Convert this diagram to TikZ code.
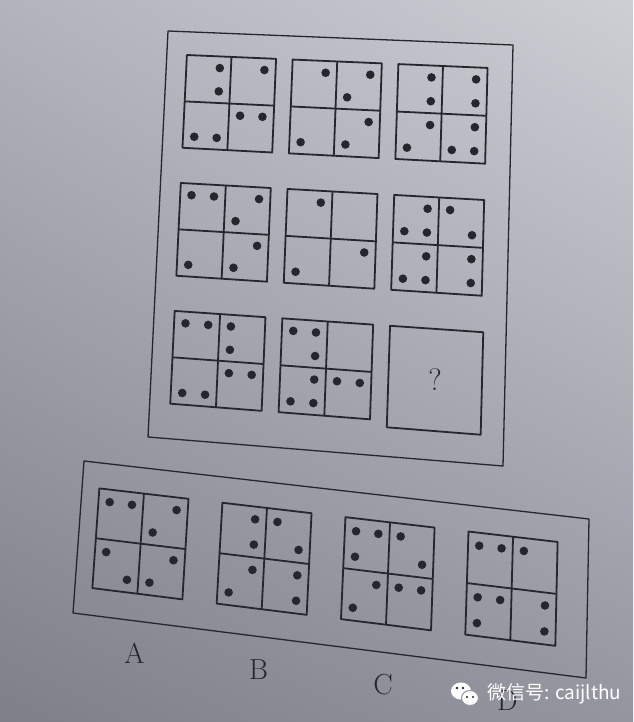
\documentclass[tikz,border=0pt]{standalone}
\usepackage{fontspec}
\newfontfamily\cjk{Noto Sans CJK SC}
\usetikzlibrary{calc,shadings}

\definecolor{ink}{RGB}{38,38,45}
\definecolor{bgul}{RGB}{178,179,187}
\definecolor{bgur}{RGB}{206,207,213}
\definecolor{bgll}{RGB}{126,127,137}
\definecolor{bglr}{RGB}{148,149,159}

% one 2x2 cell between (nw),(ne),(sw),(se), dots on a 4x4 lattice
\newcommand{\dotcell}[1]{%
  \draw[cellline] (nw) -- (ne) -- (se) -- (sw) -- cycle;
  \draw[cellline] ($(nw)!.5!(ne)$) -- ($(sw)!.5!(se)$);
  \draw[cellline] ($(nw)!.5!(sw)$) -- ($(ne)!.5!(se)$);
  \foreach \i/\j in #1 {
    \pgfmathsetmacro\sx{0.125+0.25*\i}
    \pgfmathsetmacro\ty{0.125+0.25*\j}
    \fill[dot] ($($(nw)!\sx!(ne)$)!\ty!($(sw)!\sx!(se)$)$) circle[radius=4.3pt];
  }%
}

\begin{document}
\begin{tikzpicture}[
    x=1pt, y=-1pt,
    frame/.style={draw=ink, line width=1.3pt, line join=round},
    cellline/.style={draw=ink, line width=1.8pt, line join=round},
    dot/.style={fill=ink},
    letter/.style={text=ink, font=\fontsize{29}{29}\selectfont},
    wm/.style={text=white, font=\cjk\fontsize{19}{19}\selectfont, inner sep=0pt},
]
\useasboundingbox (0,0) rectangle (633,722);
\shade[upper left=bgul, upper right=bgur, lower left=bgll, lower right=bglr]
    (0,0) rectangle (633,722);

% ---- question panel ----
\coordinate (top nw) at (168,31);
\coordinate (top ne) at (513,45);
\coordinate (top sw) at (148,437);
\coordinate (top se) at (503,466);
\draw[frame] (top nw) -- (top ne) -- (top se) -- (top sw) -- cycle;

\foreach \c/\r/\dl in {
    0/0/{1/0,1/1,3/0,2/2,3/2,0/3,1/3},
    1/0/{1/0,3/0,2/1,3/2,0/3,2/3},
    2/0/{1/0,1/1,3/0,3/1,1/2,0/3,3/2,2/3,3/3},
    0/1/{0/0,1/0,3/0,2/1,3/2,0/3,2/3},
    1/1/{1/0,3/2,0/3},
    2/1/{1/0,0/1,1/1,2/0,3/1,1/2,0/3,1/3,3/2,3/3},
    0/2/{0/0,1/0,2/0,2/1,2/2,3/2,0/3,1/3},
    1/2/{0/0,1/0,1/1,1/2,0/3,1/3,2/2,3/2}} {
    \pgfmathsetmacro\ua{0.058+0.306*\c}
    \pgfmathsetmacro\ub{\ua+0.258}
    \pgfmathsetmacro\va{0.057+0.3145*\r}
    \pgfmathsetmacro\vb{\va+0.228}
    \coordinate (nw) at ($($(top nw)!\ua!(top ne)$)!\va!($(top sw)!\ua!(top se)$)$);
    \coordinate (ne) at ($($(top nw)!\ub!(top ne)$)!\va!($(top sw)!\ub!(top se)$)$);
    \coordinate (sw) at ($($(top nw)!\ua!(top ne)$)!\vb!($(top sw)!\ua!(top se)$)$);
    \coordinate (se) at ($($(top nw)!\ub!(top ne)$)!\vb!($(top sw)!\ub!(top se)$)$);
    \dotcell{\dl}
}

% missing cell
\coordinate (q nw) at ($($(top nw)!0.67!(top ne)$)!0.686!($(top sw)!0.67!(top se)$)$);
\coordinate (q ne) at ($($(top nw)!0.935!(top ne)$)!0.686!($(top sw)!0.935!(top se)$)$);
\coordinate (q sw) at ($($(top nw)!0.67!(top ne)$)!0.93!($(top sw)!0.67!(top se)$)$);
\coordinate (q se) at ($($(top nw)!0.935!(top ne)$)!0.93!($(top sw)!0.935!(top se)$)$);
\draw[cellline] (q nw) -- (q ne) -- (q se) -- (q sw) -- cycle;
\node[text=ink, font=\fontsize{31}{31}\selectfont] (qmark)
    at ($($(q nw)!.5!(q ne)$)!.5!($(q sw)!.5!(q se)$)$) {?};

% ---- answer panel ----
\coordinate (opt nw) at (84,461);
\coordinate (opt ne) at (589,519);
\coordinate (opt sw) at (73,613);
\coordinate (opt se) at (586,678);
\draw[frame] (opt nw) -- (opt ne) -- (opt se) -- (opt sw) -- cycle;

\foreach \c/\lab/\dl in {
    0/A/{0/0,1/0,3/0,2/1,0/2,3/2,1/3,2/3},
    1/B/{1/0,1/1,2/0,3/1,1/2,0/3,3/2,3/3},
    2/C/{0/0,1/0,0/1,2/0,3/1,1/2,0/3,2/2,3/2},
    3/D/{0/0,1/0,2/0,0/2,1/2,0/3,3/2,3/3}} {
    \pgfmathsetmacro\ua{0.034+0.243*\c}
    \pgfmathsetmacro\ub{\ua+0.176}
    \coordinate (nw) at ($($(opt nw)!\ua!(opt ne)$)!0.167!($(opt sw)!\ua!(opt se)$)$);
    \coordinate (ne) at ($($(opt nw)!\ub!(opt ne)$)!0.167!($(opt sw)!\ub!(opt se)$)$);
    \coordinate (sw) at ($($(opt nw)!\ua!(opt ne)$)!0.822!($(opt sw)!\ua!(opt se)$)$);
    \coordinate (se) at ($($(opt nw)!\ub!(opt ne)$)!0.822!($(opt sw)!\ub!(opt se)$)$);
    \dotcell{\dl}
    \node[letter] (lab\lab) at ($($(sw)!.5!(se)$)+(-3,60)$) {\lab};
}

% watermark
\coordinate (logo) at (465,694);
\fill[white] ($(logo)+(-4,-3)$) ellipse[x radius=10pt, y radius=8.5pt];
\fill[white, draw=bglr, line width=1pt] ($(logo)+(5,4)$) ellipse[x radius=8.5pt, y radius=7.5pt];
\fill[ink] ($(logo)+(-8,-6)$) circle[radius=1.4pt] ($(logo)+(-2,-6)$) circle[radius=1.4pt];
\fill[ink] ($(logo)+(2,3)$) circle[radius=1.2pt] ($(logo)+(8,3)$) circle[radius=1.2pt];
\node[wm, anchor=west] (wmtext) at (487,694) {微信号: caijlthu};
\end{tikzpicture}
\end{document}
